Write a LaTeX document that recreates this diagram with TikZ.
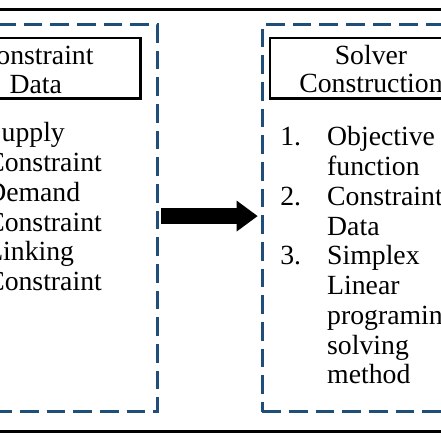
\documentclass[tikz,border=0pt]{standalone}
\usepackage{fontspec}
\setmainfont{Liberation Serif}
\usepackage{tikz}
\usetikzlibrary{arrows.meta}
\definecolor{panelblue}{RGB}{31,78,121}

\tikzset{
  panel/.style={draw=panelblue, line width=2.25pt, dash pattern=on 14pt off 6pt, minimum height=290.25pt, inner sep=0pt},
  titlebox/.style={draw=black, line width=1.9pt, align=center, minimum height=45.4pt, inner sep=0pt, font=\fontsize{20.8}{21.5}\selectfont},
  listtext/.style={anchor=base west, inner sep=0pt, font=\fontsize{20.8}{22.3}\selectfont},
  bigarrow/.style={line width=11.5pt, -{Triangle[length=15.75pt, width=23.25pt, line width=0pt]}, shorten <=1.7pt, shorten >=2.4pt}
}

\begin{document}
\begin{tikzpicture}[x=0.75pt,y=0.75pt,yscale=-1,xscale=1]
        \useasboundingbox (0,0) rectangle (441,441);
        \clip (0,0) rectangle (441,441);

        %Shape: Rules top and bottom
        \draw [line width=2pt] (0,9.5) -- (441,9.5);
        \draw [line width=2.4pt] (0,431.7) -- (441,431.7);

        %Shape: Dashed panels
        \node [panel, minimum width=163.3pt] (leftpanel) at (48.85,218) {};
        \node [panel, minimum width=193.3pt] (rightpanel) at (391.15,218) {};

        %Shape: Title boxes
        \node [titlebox, minimum width=157.1pt] (datatitle) at (35.75,68.25) {\raisebox{-4pt}[\height][\depth]{\begin{tabular}{@{}c@{}}Constraint\\Data\end{tabular}}};
        \node [titlebox, minimum width=151.5pt] (solvertitle) at (371,68.25) {\raisebox{-3.4pt}[\height][\depth]{\begin{tabular}{@{}c@{}}Solver\\Construction\end{tabular}}};

        % Text Node
        \node [listtext] (datalist) at (-14,142) {\begin{tabular}[t]{@{}l@{}}
            Supply\\ Constraint\\ Demand\\ Constraint\\ Linking\\ Constraint
          \end{tabular}};
        % Text Node
        \node [listtext] (solverlist) at (280,146) {\begin{tabular}[t]{@{}l@{\hspace{19.6pt}}l@{}}
            1. & Objective\\ & function\\
            2. & Constraint\\ & Data\\
            3. & Simplex\\ & Linear\\ & programing\\ & solving\\ & method
          \end{tabular}};

        %Shape: Arrow
        \draw [bigarrow] (leftpanel.1) -- (leftpanel.1 -| rightpanel.west);

\end{tikzpicture}
\end{document}
